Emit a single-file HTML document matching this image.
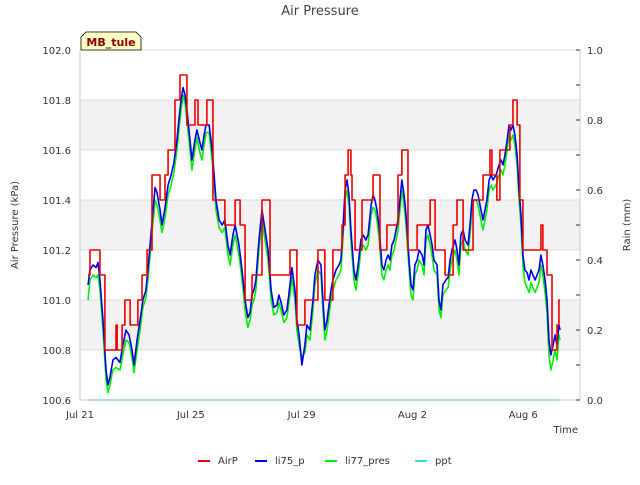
<!DOCTYPE html>
<html><head><meta charset="utf-8"><style>
body{margin:0;background:#fff;font-family:"Liberation Sans","DejaVu Sans",sans-serif;}
svg text{font-family:"DejaVu Sans","Liberation Sans",sans-serif;}
</style></head><body>
<svg id="chart" width="640" height="480" xmlns="http://www.w3.org/2000/svg">
<rect width="640" height="480" fill="#fff"/>
<g id="grid"></g>
<g id="series"></g>
<g id="axes"></g>
<text x="320" y="15" text-anchor="middle" font-size="13" fill="#444">Air Pressure</text>
<text transform="translate(18,225) rotate(-90)" text-anchor="middle" font-size="10" fill="#333">Air Pressure (kPa)</text>
<text transform="translate(630,225) rotate(-90)" text-anchor="middle" font-size="10" fill="#333">Rain (mm)</text>
<text x="578" y="433" text-anchor="end" font-size="10" fill="#333">Time</text>
<g>
<path d="M81,50 L81,37 L86,32 L136,32 L141,37 L141,50 Z" fill="#ffffc4" stroke="#000" stroke-width="0.8"/>
<text x="111" y="46" text-anchor="middle" font-size="11" font-weight="bold" fill="#8b0000">MB_tule</text>
</g>
<g id="legend"></g>
</svg>
<script>
const xTickLabels=["Jul 21","Jul 25","Jul 29","Aug 2","Aug 6"];
const xTickDays=[0,4,8,12,16];
const yTicks=[100.6,100.8,101.0,101.2,101.4,101.6,101.8,102.0];
const y2Ticks=[0.0,0.2,0.4,0.6,0.8,1.0];
const times=[0.29,0.36,0.47,0.58,0.65,0.72,0.83,0.94,1.01,1.08,1.19,1.30,1.44,1.55,1.66,1.77,1.88,1.95,2.06,2.17,2.27,2.38,2.45,2.53,2.60,2.71,2.78,2.89,2.96,3.07,3.18,3.29,3.39,3.50,3.57,3.65,3.72,3.79,3.86,3.97,4.04,4.15,4.22,4.33,4.40,4.48,4.55,4.66,4.73,4.80,4.91,5.02,5.13,5.23,5.34,5.42,5.52,5.60,5.67,5.74,5.85,5.96,6.06,6.14,6.21,6.28,6.35,6.46,6.57,6.68,6.79,6.90,7.00,7.11,7.18,7.26,7.36,7.47,7.58,7.65,7.76,7.83,7.91,8.01,8.12,8.19,8.30,8.41,8.48,8.59,8.70,8.77,8.84,8.92,8.99,9.06,9.13,9.24,9.35,9.42,9.49,9.57,9.64,9.71,9.78,9.89,9.96,10.04,10.14,10.22,10.32,10.40,10.51,10.58,10.65,10.72,10.79,10.90,10.97,11.05,11.12,11.19,11.26,11.34,11.41,11.48,11.55,11.62,11.70,11.77,11.88,11.95,12.02,12.09,12.17,12.24,12.35,12.42,12.49,12.56,12.64,12.71,12.78,12.89,12.96,13.03,13.10,13.21,13.29,13.36,13.43,13.54,13.61,13.68,13.75,13.83,13.90,14.01,14.08,14.15,14.22,14.30,14.37,14.44,14.55,14.62,14.69,14.77,14.84,14.91,15.02,15.13,15.20,15.27,15.34,15.42,15.49,15.56,15.63,15.70,15.78,15.85,15.92,15.99,16.06,16.14,16.21,16.28,16.35,16.43,16.50,16.57,16.64,16.71,16.79,16.86,16.93,17.00,17.08,17.15,17.22,17.29,17.33];
const li75=[101.06,101.12,101.14,101.13,101.15,101.08,100.92,100.72,100.66,100.69,100.76,100.77,100.75,100.82,100.88,100.86,100.80,100.74,100.84,100.92,101.00,101.04,101.12,101.22,101.31,101.45,101.43,101.36,101.30,101.37,101.46,101.50,101.55,101.64,101.72,101.80,101.85,101.82,101.76,101.64,101.56,101.64,101.68,101.63,101.60,101.66,101.70,101.70,101.64,101.56,101.40,101.32,101.30,101.32,101.22,101.18,101.26,101.30,101.26,101.22,101.12,101.00,100.93,100.95,101.02,101.04,101.08,101.24,101.36,101.28,101.20,101.04,100.97,100.98,101.02,100.99,100.94,100.96,101.06,101.13,101.04,100.92,100.86,100.74,100.82,100.90,100.88,101.00,101.10,101.16,101.14,101.00,100.88,100.92,100.98,101.04,101.08,101.12,101.14,101.16,101.28,101.44,101.48,101.42,101.28,101.12,101.08,101.14,101.24,101.26,101.24,101.26,101.38,101.42,101.40,101.36,101.30,101.14,101.12,101.16,101.18,101.16,101.22,101.24,101.28,101.32,101.40,101.48,101.42,101.34,101.16,101.06,101.04,101.14,101.16,101.20,101.18,101.14,101.28,101.30,101.26,101.22,101.16,101.14,101.00,100.96,101.06,101.08,101.09,101.16,101.20,101.24,101.20,101.14,101.26,101.28,101.24,101.22,101.30,101.40,101.44,101.44,101.42,101.38,101.32,101.36,101.40,101.48,101.50,101.48,101.50,101.54,101.56,101.54,101.58,101.64,101.70,101.68,101.70,101.66,101.58,101.44,101.34,101.18,101.12,101.11,101.08,101.12,101.10,101.08,101.10,101.12,101.18,101.14,101.08,101.00,100.84,100.78,100.82,100.86,100.82,100.90,100.88];
const li77=[101.00,101.08,101.10,101.09,101.10,101.04,100.88,100.68,100.63,100.66,100.72,100.73,100.72,100.78,100.84,100.83,100.77,100.71,100.80,100.88,100.97,101.01,101.08,101.18,101.27,101.40,101.38,101.32,101.27,101.33,101.42,101.46,101.51,101.60,101.68,101.76,101.82,101.79,101.72,101.60,101.52,101.60,101.65,101.59,101.56,101.62,101.67,101.67,101.60,101.52,101.36,101.29,101.27,101.29,101.18,101.14,101.22,101.26,101.22,101.18,101.08,100.96,100.89,100.92,100.98,101.00,101.04,101.20,101.32,101.24,101.16,101.00,100.94,100.95,100.99,100.96,100.91,100.93,101.02,101.09,101.00,100.88,100.82,100.77,100.79,100.86,100.84,100.96,101.06,101.12,101.10,100.96,100.84,100.88,100.94,101.00,101.04,101.08,101.10,101.12,101.24,101.40,101.44,101.38,101.24,101.08,101.04,101.10,101.20,101.22,101.20,101.22,101.34,101.37,101.36,101.32,101.26,101.10,101.08,101.12,101.14,101.12,101.18,101.20,101.24,101.28,101.36,101.44,101.38,101.30,101.12,101.02,101.00,101.10,101.12,101.16,101.14,101.10,101.24,101.26,101.22,101.18,101.12,101.10,100.96,100.93,101.02,101.04,101.05,101.12,101.16,101.20,101.16,101.10,101.22,101.24,101.20,101.18,101.26,101.36,101.40,101.40,101.38,101.34,101.28,101.32,101.36,101.44,101.46,101.44,101.46,101.50,101.52,101.50,101.54,101.60,101.66,101.64,101.66,101.62,101.54,101.40,101.30,101.14,101.07,101.05,101.03,101.07,101.05,101.03,101.05,101.07,101.14,101.10,101.03,100.95,100.78,100.72,100.76,100.80,100.76,100.86,100.84];
const airTimes=[0.29,0.36,0.72,0.90,1.30,1.34,1.52,1.62,1.81,2.09,2.24,2.42,2.60,2.89,3.07,3.18,3.43,3.61,3.86,4.15,4.26,4.58,4.80,4.98,5.23,5.60,5.78,5.96,6.21,6.57,6.86,7.58,7.83,8.12,8.59,8.84,8.95,9.13,9.46,9.57,9.68,9.78,9.82,9.93,10.18,10.58,10.83,11.08,11.48,11.62,11.84,12.17,12.64,12.82,13.18,13.47,13.61,13.83,14.19,14.55,14.80,14.87,15.05,15.16,15.52,15.63,15.78,15.88,15.99,16.64,16.71,16.86,17.04,17.22,17.29,17.33];
const airP=[101.1,101.2,101.1,100.8,100.9,100.8,100.9,101.0,100.9,101.0,101.1,101.2,101.5,101.4,101.5,101.6,101.8,101.9,101.7,101.8,101.7,101.8,101.4,101.4,101.3,101.4,101.3,101.0,101.1,101.4,101.1,101.2,100.9,101.0,101.2,101.0,101.0,101.2,101.3,101.5,101.6,101.5,101.4,101.2,101.4,101.5,101.2,101.3,101.5,101.6,101.2,101.3,101.4,101.2,101.1,101.3,101.4,101.2,101.4,101.5,101.6,101.5,101.4,101.6,101.7,101.8,101.7,101.4,101.2,101.3,101.2,101.1,100.8,100.9,101.0,101.0];
const pptTimes=[0.29,17.33];
const ppt=[0.0,0.0];

const L=80,R=580,T=50,B=400;
const dayMin=0,dayMax=500/27.7;
const X=d=>L+(d-dayMin)/(dayMax-dayMin)*(R-L);
const Y=v=>B-(v-100.6)/(102.0-100.6)*(B-T);
const Y2=v=>B-v/1.0*(B-T);
const NS="http://www.w3.org/2000/svg";
function mk(tag,attrs,parent){const e=document.createElementNS(NS,tag);for(const k in attrs)e.setAttribute(k,attrs[k]);parent.appendChild(e);return e;}
const grid=document.getElementById('grid'),axes=document.getElementById('axes'),series=document.getElementById('series'),legend=document.getElementById('legend');
for(let i=0;i<yTicks.length-1;i++){
  if(i%2===1){const r=mk('rect',{x:L,y:Y(yTicks[i+1]),width:R-L,height:Y(yTicks[i])-Y(yTicks[i+1]),fill:'#f2f2f2'},grid);
  
  }
}
yTicks.forEach(v=>{const l=mk('line',{x1:L,x2:R,y1:Y(v),y2:Y(v),stroke:'#dddddd','stroke-width':1},grid);


const t=mk('text',{x:L-9,y:Y(v)+4,'text-anchor':'end','font-size':10,fill:'#333'},axes);t.textContent=v.toFixed(1);

});
mk('line',{x1:L,x2:L,y1:T,y2:B,stroke:'#cccccc'},axes);
mk('line',{x1:R,x2:R,y1:T,y2:B,stroke:'#cccccc'},axes);
mk('line',{x1:L,x2:R,y1:T,y2:T,stroke:'#dddddd'},axes);
mk('line',{x1:L,x2:R,y1:B,y2:B,stroke:'#cccccc'},axes);
for(let v=0;v<=1.0001;v+=0.1){mk('line',{x1:R-4,x2:R,y1:Y2(v),y2:Y2(v),stroke:'#333'},axes);}
y2Ticks.forEach(v=>{const t=mk('text',{x:R+7,y:Y2(v)+4,'font-size':10,fill:'#333'},axes);t.textContent=v.toFixed(1);

});
xTickDays.forEach((d,i)=>{const t=mk('text',{x:X(d),y:B+18,'text-anchor':'middle','font-size':10,fill:'#333'},axes);t.textContent=xTickLabels[i];

});
function line(ts,vs,sc,color,name,step){let d='';ts.forEach((t,i)=>{const x=X(t),y=sc(vs[i]);if(i===0)d+='M'+x+','+y;else if(step)d+='H'+x+'V'+y;else d+='L'+x+','+y;});
const p=mk('path',{d:d,fill:'none',stroke:color,'stroke-width':1.6,'stroke-linejoin':'round'},series);

}
line(times,li77,Y,'#00ee00','li77-pres-line',false);
line(times,li75,Y,'#0000ee','li75-p-line',false);
line(airTimes,airP,Y,'#ee0000','airp-line',true);
line(pptTimes,ppt,Y2,'#33dddd','ppt-line',false);
const leg=[['AirP','#ee0000',198],['li75_p','#0000ee',255],['li77_pres','#00ee00',325],['ppt','#33dddd',415]];
leg.forEach(e=>{const g=mk('g',{},legend);


mk('line',{x1:e[2],x2:e[2]+12,y1:461,y2:461,stroke:e[1],'stroke-width':2},g);
const t=mk('text',{x:e[2]+20,y:464,'font-size':10,fill:'#333'},g);t.textContent=e[0];});
</script>
</body></html>
